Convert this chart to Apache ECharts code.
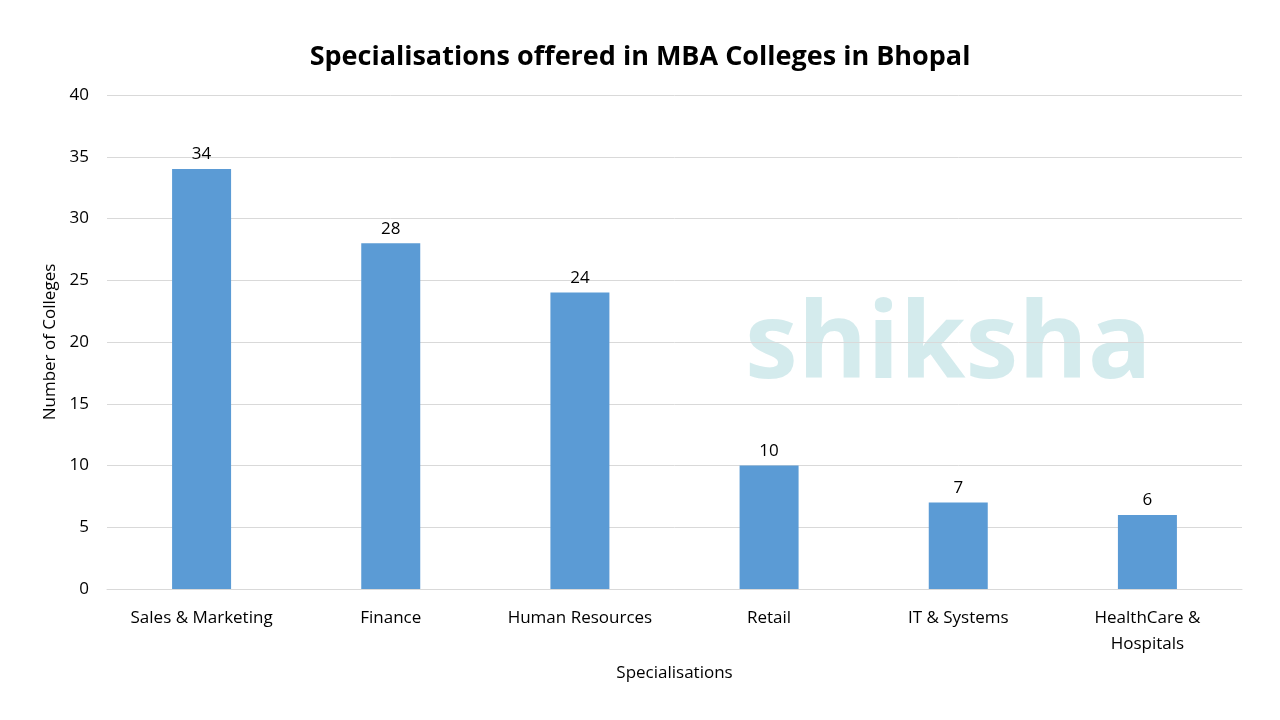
<!DOCTYPE html>
<html>
<head>
<meta charset="utf-8">
<script src="https://cdn.jsdelivr.net/npm/echarts@6/dist/echarts.min.js"></script>
<style>html,body{margin:0;padding:0;background:#fff}#myChart{width:1280px;height:720px}</style>
</head>
<body>
<div id="myChart"></div>
<script>
var categories = ['Sales & Marketing', 'Finance', 'Human Resources', 'Retail', 'IT & Systems', 'HealthCare &\nHospitals'];
var collegeCounts = [34, 28, 24, 10, 7, 6];
var yTicks = { min: 0, max: 40, interval: 5 };

var myChart = echarts.init(document.getElementById('myChart'));
var font = 'Open Sans, Liberation Sans, sans-serif';

var option = {
    backgroundColor: '#fff',
    title: {
        text: 'Specialisations offered in MBA Colleges in Bhopal',
        left: 'center',
        top: 39,
        textStyle: { fontFamily: font, fontSize: 27, fontWeight: 'bold', color: '#000' }
    },
    graphic: [{
        type: 'text',
        left: 745,
        top: 295,
        z: 0,
        style: { text: 'shiksha', fontFamily: font, fontSize: 106, fontWeight: 'bold', fill: 'rgba(160,210,215,0.45)' }
    }],
    grid: { left: 107, right: 38, top: 95, bottom: 131, containLabel: false },
    xAxis: {
        type: 'category',
        data: categories,
        name: 'Specialisations',
        nameLocation: 'middle',
        nameGap: 76,
        nameTextStyle: { fontFamily: font, fontSize: 17, color: '#000' },
        axisLine: { lineStyle: { color: '#d9d9d9' } },
        axisTick: { show: false },
        axisLabel: { fontFamily: font, fontSize: 17, color: '#000', margin: 16, lineHeight: 26, interval: 0 }
    },
    yAxis: {
        type: 'value',
        min: yTicks.min,
        max: yTicks.max,
        interval: yTicks.interval,
        name: 'Number of Colleges',
        nameLocation: 'middle',
        nameGap: 48,
        nameTextStyle: { fontFamily: font, fontSize: 17, color: '#000' },
        axisLine: { show: false },
        axisTick: { show: false },
        splitLine: { lineStyle: { color: '#d9d9d9' } },
        axisLabel: { fontFamily: font, fontSize: 17, color: '#000', margin: 18 }
    },
    series: [{
        type: 'bar',
        data: collegeCounts,
        barWidth: 59,
        z: 3,
        itemStyle: { color: '#5b9bd5' },
        label: { show: true, position: 'top', distance: 6, fontFamily: font, fontSize: 17, color: '#000' }
    }]
};

myChart.setOption(option);
</script>
</body>
</html>
